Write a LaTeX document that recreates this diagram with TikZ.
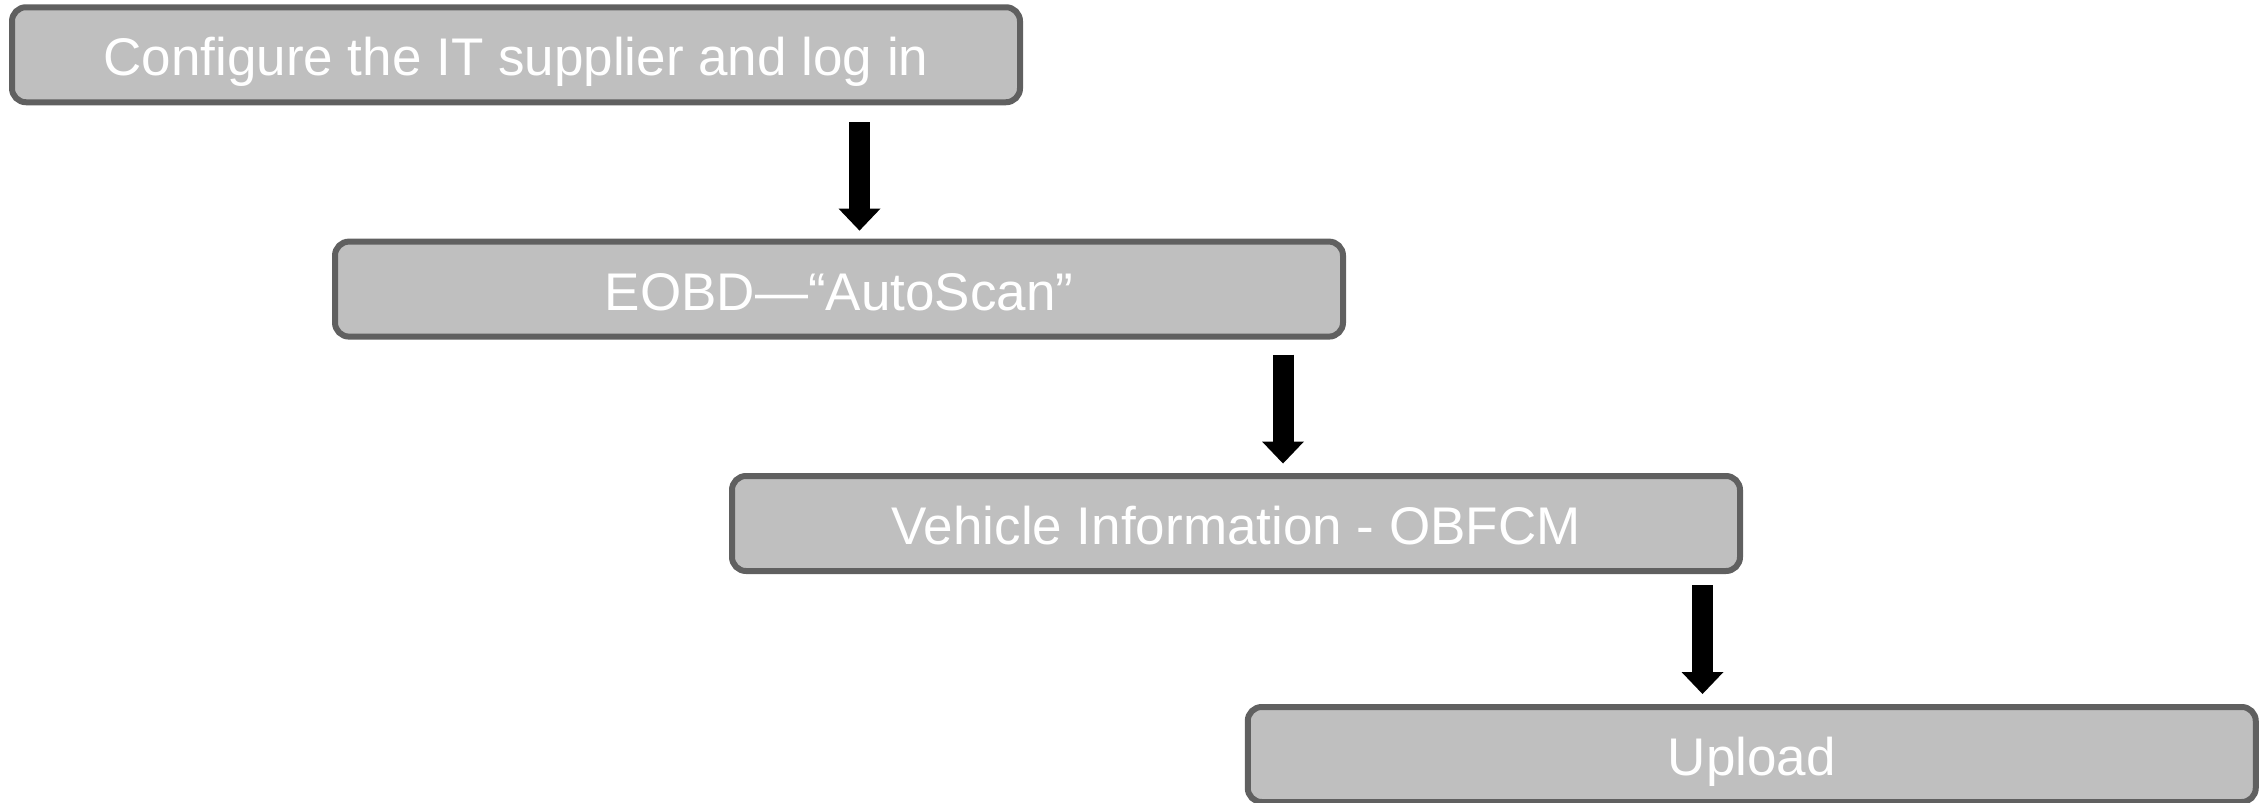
\documentclass[tikz,border=0pt]{standalone}
\usepackage{fontspec}
\setmainfont{Liberation Sans}
\usetikzlibrary{arrows.meta,calc}

\definecolor{boxfill}{RGB}{191,191,191}
\definecolor{boxline}{RGB}{96,96,96}

\tikzset{
  stepbox/.style={draw=boxline, fill=boxfill, line width=6pt,
    rounded corners=14pt, rectangle, inner sep=0pt,
    minimum width=1008pt, minimum height=95pt,
    text=white, font=\fontsize{53pt}{60pt}\selectfont,
    text height=42pt, text depth=0pt},
  bigarrow/.style={draw=black, line width=21pt,
    -{Triangle[width=42pt,length=22pt,line width=0pt]}}
}

\begin{document}
\begin{tikzpicture}[x=1pt,y=-1pt]
  \useasboundingbox (0,0) rectangle (2262,803);

  % process steps
  \node[stepbox] (b1) at (516,54.75)   {Configure the IT supplier and log in};
  \node[stepbox] (b2) at (839,289.1)   {EOBD—“AutoScan”};
  \node[stepbox] (b3) at (1236,523.5)  {Vehicle Information - OBFCM};
  \node[stepbox] (b4) at (1751.75,754.5) {Upload};

  % horizontal positions of the arrows
  \coordinate (x1) at (859.5,0);
  \coordinate (x2) at (1283,0);
  \coordinate (x3) at (1702.5,0);

  % arrows between consecutive steps
  \draw[bigarrow] ($(b1.south -| x1)+(0,17)$) -- ($(b2.north -| x1)+(0,-8)$);
  \draw[bigarrow] ($(b2.south -| x2)+(0,15)$) -- ($(b3.north -| x2)+(0,-9.5)$);
  \draw[bigarrow] ($(b3.south -| x3)+(0,11)$) -- ($(b4.north -| x3)+(0,-10)$);
\end{tikzpicture}
\end{document}
